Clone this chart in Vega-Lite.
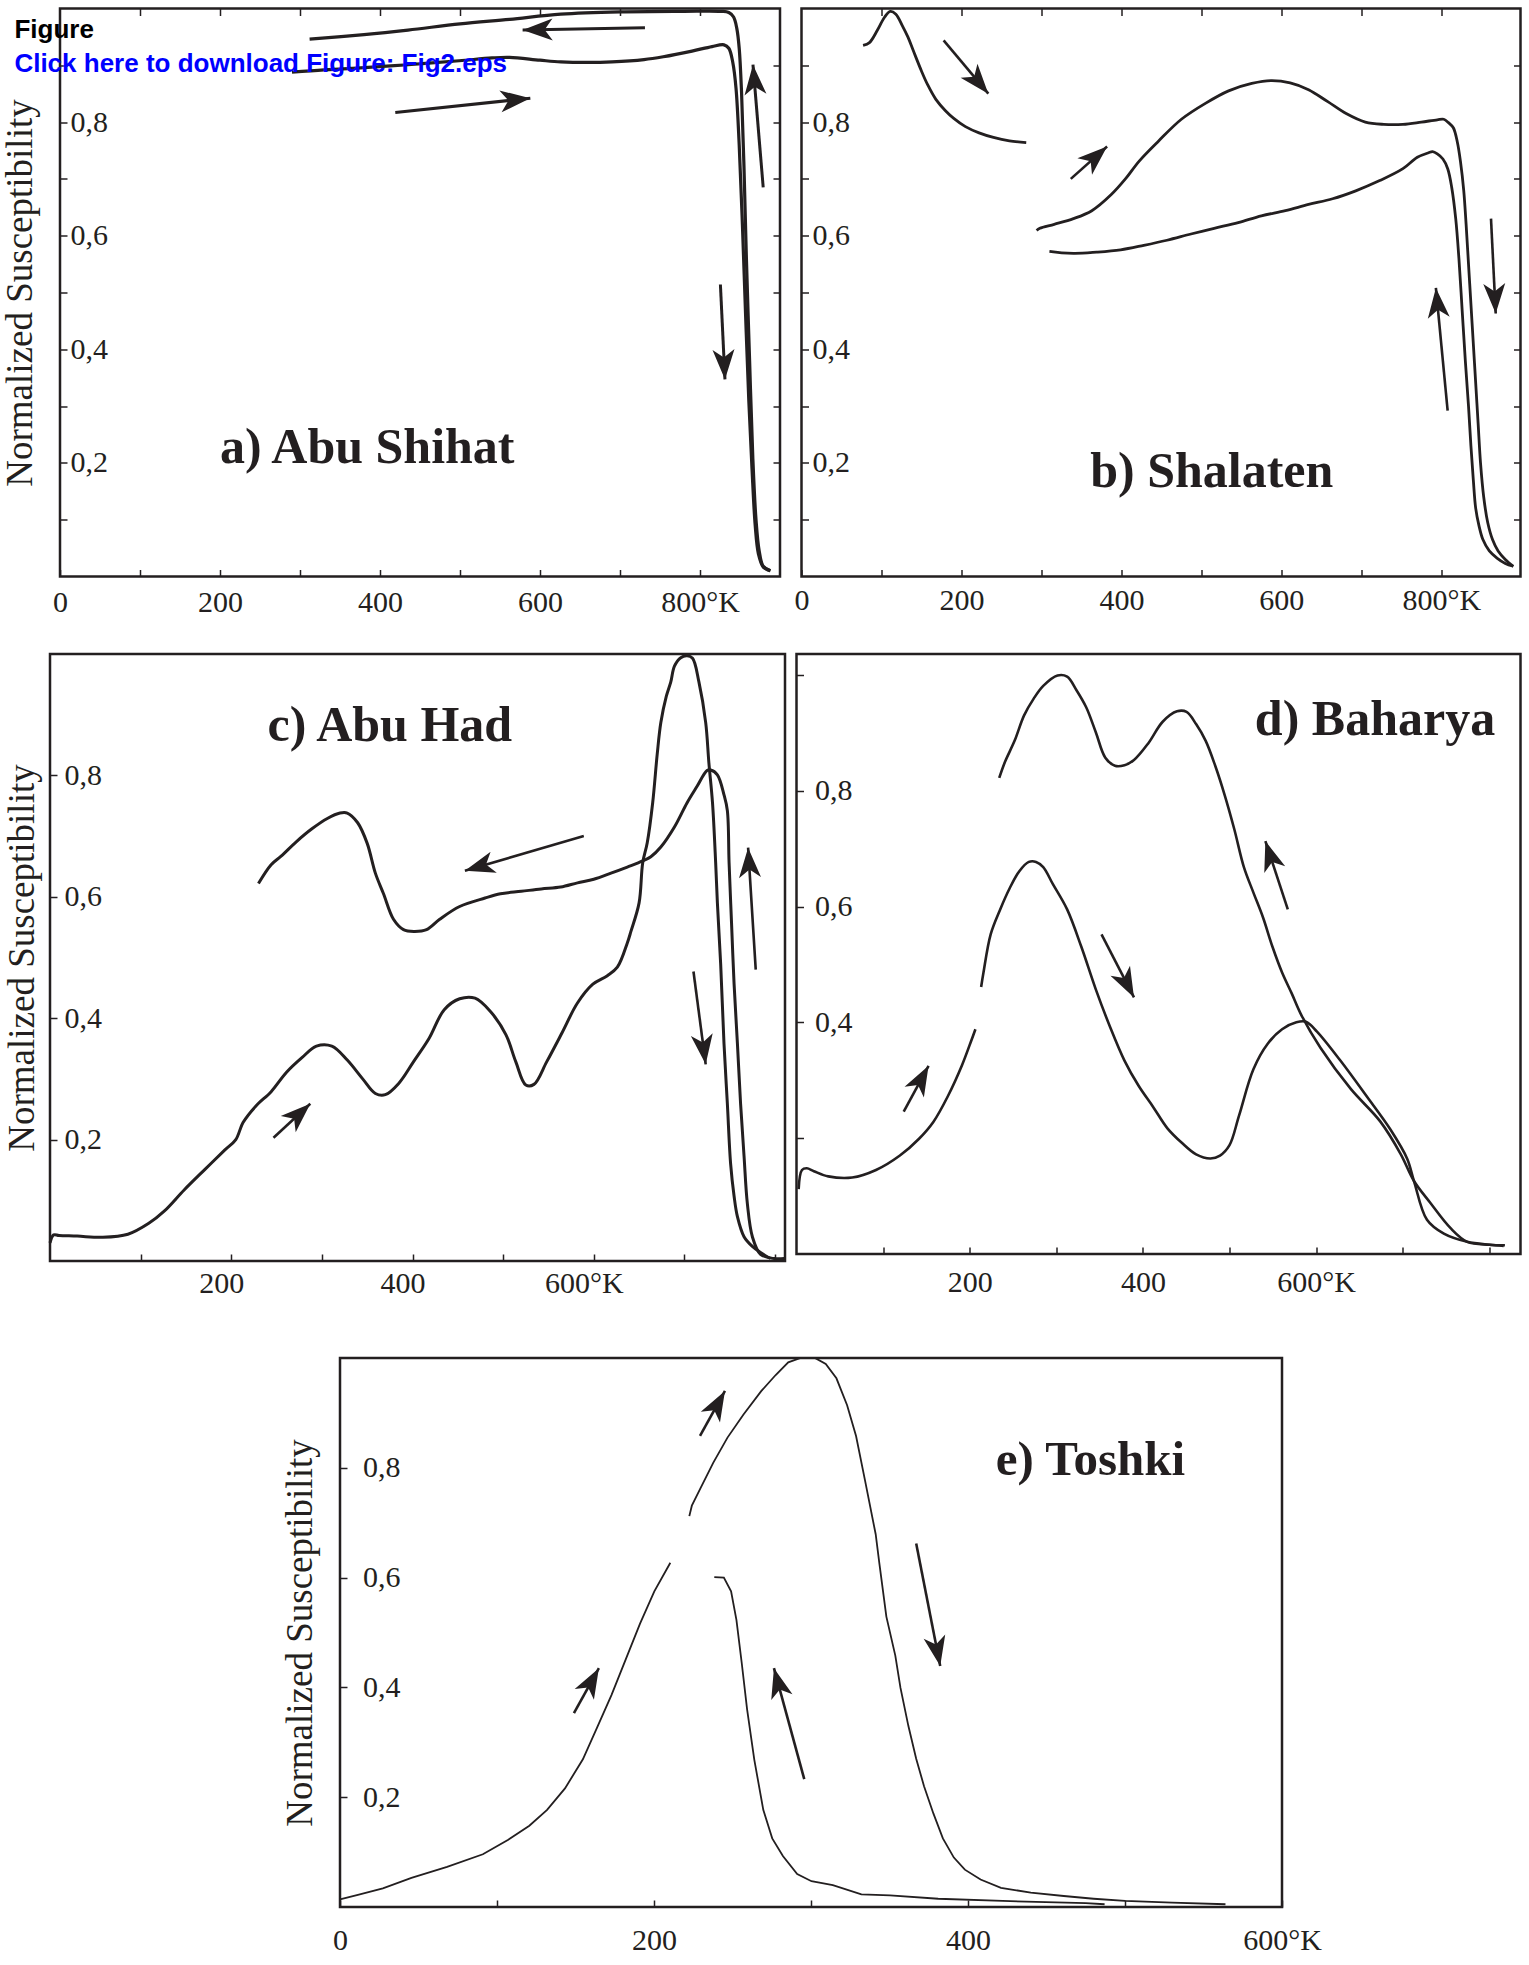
{
"$schema":"https://vega.github.io/schema/vega-lite/v6.json",
"background":"white",
"padding":{"left":0,"top":2.5,"right":0,"bottom":0},
"autosize":{"type":"pad"},
"config":{
 "view":{"stroke":"#231f20","strokeWidth":2.5},
 "axis":{"domain":false,"grid":false,"tickColor":"#231f20","tickWidth":1.5,"tickSize":-7,"labelFont":"Liberation Serif","labelFontSize":30,"labelColor":"#231f20","labelFlush":false,"labelOverlap":false,"labelBound":false,"titleFont":"Liberation Serif","titleFontSize":37,"titleFontWeight":"normal","titleColor":"#231f20"}
},
"datasets":{
 "aL":[
  {"s":"h","i":0,"x":290,"y":0.888},{"s":"h","i":1,"x":330,"y":0.892},{"s":"h","i":2,"x":371,"y":0.895},{"s":"h","i":3,"x":435,"y":0.901},{"s":"h","i":4,"x":499,"y":0.908},{"s":"h","i":5,"x":540,"y":0.913},{"s":"h","i":6,"x":562,"y":0.914},{"s":"h","i":7,"x":600,"y":0.909},{"s":"h","i":8,"x":626,"y":0.906},{"s":"h","i":9,"x":660,"y":0.905},{"s":"h","i":10,"x":690,"y":0.906},{"s":"h","i":11,"x":730,"y":0.91},{"s":"h","i":12,"x":754,"y":0.915},{"s":"h","i":13,"x":790,"y":0.925},{"s":"h","i":14,"x":815,"y":0.933},{"s":"h","i":15,"x":830,"y":0.936},{"s":"h","i":16,"x":836,"y":0.93},{"s":"h","i":17,"x":841,"y":0.905},{"s":"h","i":18,"x":845,"y":0.86},{"s":"h","i":19,"x":849,"y":0.76},{"s":"h","i":20,"x":853,"y":0.62},{"s":"h","i":21,"x":857,"y":0.46},{"s":"h","i":22,"x":861,"y":0.31},{"s":"h","i":23,"x":865,"y":0.19},{"s":"h","i":24,"x":869,"y":0.09},{"s":"h","i":25,"x":873,"y":0.04},{"s":"h","i":26,"x":879,"y":0.017},{"s":"h","i":27,"x":888,"y":0.01},
  {"s":"c","i":0,"x":888,"y":0.01},{"s":"c","i":1,"x":879,"y":0.018},{"s":"c","i":2,"x":874,"y":0.045},{"s":"c","i":3,"x":870,"y":0.1},{"s":"c","i":4,"x":866,"y":0.21},{"s":"c","i":5,"x":862,"y":0.38},{"s":"c","i":6,"x":858,"y":0.56},{"s":"c","i":7,"x":855,"y":0.72},{"s":"c","i":8,"x":852,"y":0.85},{"s":"c","i":9,"x":849,"y":0.93},{"s":"c","i":10,"x":846,"y":0.965},{"s":"c","i":11,"x":842,"y":0.985},{"s":"c","i":12,"x":836,"y":0.993},{"s":"c","i":13,"x":826,"y":0.995},{"s":"c","i":14,"x":780,"y":0.995},{"s":"c","i":15,"x":700,"y":0.994},{"s":"c","i":16,"x":626,"y":0.99},{"s":"c","i":17,"x":562,"y":0.981},{"s":"c","i":18,"x":500,"y":0.973},{"s":"c","i":19,"x":435,"y":0.962},{"s":"c","i":20,"x":380,"y":0.954},{"s":"c","i":21,"x":312,"y":0.946}
 ],
 "aA":[
  {"x":731.2,"y":0.966,"x2":578.3,"y2":0.962,"ang":-91},
  {"x":419.1,"y":0.817,"x2":587.9,"y2":0.842,"ang":84},
  {"x":879,"y":0.685,"x2":866.2,"y2":0.901,"ang":-4.8},
  {"x":825.5,"y":0.514,"x2":831.2,"y2":0.347,"ang":177.2}
 ],
 "bL":[
  {"s":"t","i":0,"x":77,"y":0.935},{"s":"t","i":1,"x":85,"y":0.94},{"s":"t","i":2,"x":95,"y":0.962},{"s":"t","i":3,"x":104,"y":0.985},{"s":"t","i":4,"x":111,"y":0.995},{"s":"t","i":5,"x":118,"y":0.99},{"s":"t","i":6,"x":126,"y":0.97},{"s":"t","i":7,"x":133,"y":0.95},{"s":"t","i":8,"x":140,"y":0.925},{"s":"t","i":9,"x":150,"y":0.89},{"s":"t","i":10,"x":158,"y":0.865},{"s":"t","i":11,"x":168,"y":0.84},{"s":"t","i":12,"x":180,"y":0.82},{"s":"t","i":13,"x":190,"y":0.807},{"s":"t","i":14,"x":205,"y":0.792},{"s":"t","i":15,"x":222,"y":0.781},{"s":"t","i":16,"x":240,"y":0.773},{"s":"t","i":17,"x":260,"y":0.767},{"s":"t","i":18,"x":281,"y":0.764},
  {"s":"h","i":0,"x":294,"y":0.609},{"s":"h","i":1,"x":298,"y":0.613},{"s":"h","i":2,"x":316,"y":0.62},{"s":"h","i":3,"x":340,"y":0.63},{"s":"h","i":4,"x":363,"y":0.644},{"s":"h","i":5,"x":387,"y":0.672},{"s":"h","i":6,"x":405,"y":0.7},{"s":"h","i":7,"x":422,"y":0.731},{"s":"h","i":8,"x":446,"y":0.766},{"s":"h","i":9,"x":475,"y":0.805},{"s":"h","i":10,"x":505,"y":0.833},{"s":"h","i":11,"x":534,"y":0.855},{"s":"h","i":12,"x":563,"y":0.868},{"s":"h","i":13,"x":587,"y":0.873},{"s":"h","i":14,"x":611,"y":0.869},{"s":"h","i":15,"x":634,"y":0.857},{"s":"h","i":16,"x":658,"y":0.836},{"s":"h","i":17,"x":681,"y":0.815},{"s":"h","i":18,"x":705,"y":0.8},{"s":"h","i":19,"x":728,"y":0.796},{"s":"h","i":20,"x":752,"y":0.796},{"s":"h","i":21,"x":775,"y":0.8},{"s":"h","i":22,"x":795,"y":0.804},{"s":"h","i":23,"x":803,"y":0.805},{"s":"h","i":24,"x":809,"y":0.799},{"s":"h","i":25,"x":815,"y":0.79},{"s":"h","i":26,"x":820,"y":0.765},{"s":"h","i":27,"x":824,"y":0.73},{"s":"h","i":28,"x":828,"y":0.68},{"s":"h","i":29,"x":831,"y":0.62},{"s":"h","i":30,"x":834,"y":0.55},{"s":"h","i":31,"x":837,"y":0.48},{"s":"h","i":32,"x":840,"y":0.41},{"s":"h","i":33,"x":843,"y":0.34},{"s":"h","i":34,"x":846,"y":0.27},{"s":"h","i":35,"x":849,"y":0.2},{"s":"h","i":36,"x":853,"y":0.14},{"s":"h","i":37,"x":858,"y":0.095},{"s":"h","i":38,"x":864,"y":0.065},{"s":"h","i":39,"x":871,"y":0.045},{"s":"h","i":40,"x":880,"y":0.03},{"s":"h","i":41,"x":890,"y":0.018},
  {"s":"c","i":0,"x":890,"y":0.018},{"s":"c","i":1,"x":880,"y":0.023},{"s":"c","i":2,"x":870,"y":0.032},{"s":"c","i":3,"x":860,"y":0.045},{"s":"c","i":4,"x":852,"y":0.065},{"s":"c","i":5,"x":847,"y":0.09},{"s":"c","i":6,"x":843,"y":0.12},{"s":"c","i":7,"x":840,"y":0.17},{"s":"c","i":8,"x":837,"y":0.23},{"s":"c","i":9,"x":834,"y":0.3},{"s":"c","i":10,"x":830,"y":0.38},{"s":"c","i":11,"x":826,"y":0.47},{"s":"c","i":12,"x":822,"y":0.56},{"s":"c","i":13,"x":818,"y":0.63},{"s":"c","i":14,"x":813,"y":0.685},{"s":"c","i":15,"x":808,"y":0.718},{"s":"c","i":16,"x":802,"y":0.735},{"s":"c","i":17,"x":795,"y":0.744},{"s":"c","i":18,"x":789,"y":0.748},{"s":"c","i":19,"x":784,"y":0.746},{"s":"c","i":20,"x":770,"y":0.738},{"s":"c","i":21,"x":752,"y":0.718},{"s":"c","i":22,"x":723,"y":0.697},{"s":"c","i":23,"x":693,"y":0.679},{"s":"c","i":24,"x":664,"y":0.665},{"s":"c","i":25,"x":634,"y":0.655},{"s":"c","i":26,"x":605,"y":0.644},{"s":"c","i":27,"x":575,"y":0.635},{"s":"c","i":28,"x":546,"y":0.623},{"s":"c","i":29,"x":516,"y":0.613},{"s":"c","i":30,"x":487,"y":0.603},{"s":"c","i":31,"x":457,"y":0.592},{"s":"c","i":32,"x":428,"y":0.583},{"s":"c","i":33,"x":399,"y":0.575},{"s":"c","i":34,"x":369,"y":0.571},{"s":"c","i":35,"x":340,"y":0.569},{"s":"c","i":36,"x":310,"y":0.5725}
 ],
 "bA":[
  {"x":177.7,"y":0.944,"x2":233.6,"y2":0.85,"ang":140},
  {"x":336.7,"y":0.7,"x2":382.1,"y2":0.757,"ang":48.3},
  {"x":807.9,"y":0.292,"x2":793.2,"y2":0.508,"ang":-5.5},
  {"x":862.1,"y":0.63,"x2":868,"y2":0.463,"ang":177.2}
 ],
 "cL":[
  {"s":"h","i":0,"x":0,"y":0.03},{"s":"h","i":1,"x":4,"y":0.043},{"s":"h","i":2,"x":10,"y":0.042},{"s":"h","i":3,"x":30,"y":0.041},{"s":"h","i":4,"x":58,"y":0.039},{"s":"h","i":5,"x":86,"y":0.044},{"s":"h","i":6,"x":109,"y":0.062},{"s":"h","i":7,"x":126,"y":0.082},{"s":"h","i":8,"x":148,"y":0.117},{"s":"h","i":9,"x":171,"y":0.151},{"s":"h","i":10,"x":193,"y":0.183},{"s":"h","i":11,"x":205,"y":0.2},{"s":"h","i":12,"x":213,"y":0.228},{"s":"h","i":13,"x":227,"y":0.255},{"s":"h","i":14,"x":244,"y":0.279},{"s":"h","i":15,"x":261,"y":0.311},{"s":"h","i":16,"x":278,"y":0.335},{"s":"h","i":17,"x":294,"y":0.354},{"s":"h","i":18,"x":311,"y":0.354},{"s":"h","i":19,"x":328,"y":0.331},{"s":"h","i":20,"x":345,"y":0.3},{"s":"h","i":21,"x":359,"y":0.276},{"s":"h","i":22,"x":370,"y":0.274},{"s":"h","i":23,"x":385,"y":0.293},{"s":"h","i":24,"x":401,"y":0.328},{"s":"h","i":25,"x":418,"y":0.366},{"s":"h","i":26,"x":435,"y":0.414},{"s":"h","i":27,"x":452,"y":0.432},{"s":"h","i":28,"x":469,"y":0.433},{"s":"h","i":29,"x":486,"y":0.411},{"s":"h","i":30,"x":503,"y":0.373},{"s":"h","i":31,"x":514,"y":0.328},{"s":"h","i":32,"x":525,"y":0.29},{"s":"h","i":33,"x":534,"y":0.291},{"s":"h","i":34,"x":548,"y":0.328},{"s":"h","i":35,"x":565,"y":0.376},{"s":"h","i":36,"x":582,"y":0.425},{"s":"h","i":37,"x":599,"y":0.456},{"s":"h","i":38,"x":615,"y":0.47},{"s":"h","i":39,"x":626,"y":0.484},{"s":"h","i":40,"x":637,"y":0.524},{"s":"h","i":41,"x":641,"y":0.543},{"s":"h","i":42,"x":650,"y":0.59},{"s":"h","i":43,"x":654,"y":0.656},{"s":"h","i":44,"x":659,"y":0.689},{"s":"h","i":45,"x":665,"y":0.755},{"s":"h","i":46,"x":670,"y":0.835},{"s":"h","i":47,"x":674,"y":0.887},{"s":"h","i":48,"x":680,"y":0.93},{"s":"h","i":49,"x":685,"y":0.954},{"s":"h","i":50,"x":689,"y":0.98},{"s":"h","i":51,"x":696,"y":0.994},{"s":"h","i":52,"x":703,"y":0.997},{"s":"h","i":53,"x":709,"y":0.993},{"s":"h","i":54,"x":716,"y":0.954},{"s":"h","i":55,"x":723.5,"y":0.887},{"s":"h","i":56,"x":727,"y":0.821},{"s":"h","i":57,"x":731,"y":0.755},{"s":"h","i":58,"x":734.5,"y":0.656},{"s":"h","i":59,"x":736.4,"y":0.59},{"s":"h","i":60,"x":740,"y":0.49},{"s":"h","i":61,"x":743.7,"y":0.358},{"s":"h","i":62,"x":747.4,"y":0.259},{"s":"h","i":63,"x":751,"y":0.16},{"s":"h","i":64,"x":754.8,"y":0.107},{"s":"h","i":65,"x":758.5,"y":0.073},{"s":"h","i":66,"x":765.8,"y":0.04},{"s":"h","i":67,"x":775,"y":0.024},{"s":"h","i":68,"x":784,"y":0.014},{"s":"h","i":69,"x":795,"y":0.004},
  {"s":"c","i":0,"x":810,"y":0.004},{"s":"c","i":1,"x":799,"y":0.004},{"s":"c","i":2,"x":784,"y":0.011},{"s":"c","i":3,"x":775,"y":0.04},{"s":"c","i":4,"x":769.5,"y":0.094},{"s":"c","i":5,"x":765.8,"y":0.173},{"s":"c","i":6,"x":762,"y":0.259},{"s":"c","i":7,"x":758.5,"y":0.358},{"s":"c","i":8,"x":754.8,"y":0.457},{"s":"c","i":9,"x":752,"y":0.557},{"s":"c","i":10,"x":749.3,"y":0.656},{"s":"c","i":11,"x":747.4,"y":0.742},{"s":"c","i":12,"x":743.7,"y":0.768},{"s":"c","i":13,"x":736.4,"y":0.801},{"s":"c","i":14,"x":729,"y":0.809},{"s":"c","i":15,"x":725,"y":0.808},{"s":"c","i":16,"x":714,"y":0.782},{"s":"c","i":17,"x":703,"y":0.755},{"s":"c","i":18,"x":689,"y":0.715},{"s":"c","i":19,"x":674,"y":0.682},{"s":"c","i":20,"x":663,"y":0.666},{"s":"c","i":21,"x":654,"y":0.659},{"s":"c","i":22,"x":637,"y":0.649},{"s":"c","i":23,"x":619,"y":0.639},{"s":"c","i":24,"x":600,"y":0.629},{"s":"c","i":25,"x":582,"y":0.623},{"s":"c","i":26,"x":563.5,"y":0.616},{"s":"c","i":27,"x":542,"y":0.613},{"s":"c","i":28,"x":520,"y":0.609},{"s":"c","i":29,"x":497,"y":0.605},{"s":"c","i":30,"x":480,"y":0.598},{"s":"c","i":31,"x":452,"y":0.584},{"s":"c","i":32,"x":430,"y":0.563},{"s":"c","i":33,"x":415.5,"y":0.546},{"s":"c","i":34,"x":401.5,"y":0.543},{"s":"c","i":35,"x":390,"y":0.546},{"s":"c","i":36,"x":379,"y":0.563},{"s":"c","i":37,"x":368,"y":0.605},{"s":"c","i":38,"x":359,"y":0.639},{"s":"c","i":39,"x":350,"y":0.688},{"s":"c","i":40,"x":339.5,"y":0.722},{"s":"c","i":41,"x":328,"y":0.738},{"s":"c","i":42,"x":320,"y":0.738},{"s":"c","i":43,"x":306,"y":0.729},{"s":"c","i":44,"x":289,"y":0.712},{"s":"c","i":45,"x":272,"y":0.691},{"s":"c","i":46,"x":255,"y":0.667},{"s":"c","i":47,"x":244,"y":0.653},{"s":"c","i":48,"x":230,"y":0.622}
 ],
 "cA":[
  {"x":589,"y":0.7,"x2":457.8,"y2":0.643,"ang":-106.3},
  {"x":246.6,"y":0.203,"x2":287.2,"y2":0.259,"ang":47.3},
  {"x":710,"y":0.477,"x2":723.5,"y2":0.324,"ang":172.5},
  {"x":778.7,"y":0.48,"x2":770.3,"y2":0.681,"ang":-3.6}
 ],
 "dL":[
  {"s":"h1","i":0,"x":2.5,"y":0.112},{"s":"h1","i":1,"x":6.3,"y":0.145},{"s":"h1","i":2,"x":11.9,"y":0.148},{"s":"h1","i":3,"x":20.1,"y":0.143},{"s":"h1","i":4,"x":36.7,"y":0.134},{"s":"h1","i":5,"x":64.3,"y":0.132},{"s":"h1","i":6,"x":91.8,"y":0.145},{"s":"h1","i":7,"x":119.4,"y":0.17},{"s":"h1","i":8,"x":141.5,"y":0.199},{"s":"h1","i":9,"x":158,"y":0.228},{"s":"h1","i":10,"x":174.6,"y":0.272},{"s":"h1","i":11,"x":191.1,"y":0.326},{"s":"h1","i":12,"x":202.2,"y":0.37},{"s":"h1","i":13,"x":206.6,"y":0.388},
  {"s":"h2","i":0,"x":213.2,"y":0.461},{"s":"h2","i":1,"x":215.9,"y":0.486},{"s":"h2","i":2,"x":224.2,"y":0.552},{"s":"h2","i":3,"x":235.2,"y":0.595},{"s":"h2","i":4,"x":246.3,"y":0.632},{"s":"h2","i":5,"x":257.3,"y":0.661},{"s":"h2","i":6,"x":268.3,"y":0.677},{"s":"h2","i":7,"x":276.6,"y":0.677},{"s":"h2","i":8,"x":284.9,"y":0.668},{"s":"h2","i":9,"x":295.9,"y":0.639},{"s":"h2","i":10,"x":312.5,"y":0.595},{"s":"h2","i":11,"x":329,"y":0.53},{"s":"h2","i":12,"x":345.6,"y":0.457},{"s":"h2","i":13,"x":362.1,"y":0.392},{"s":"h2","i":14,"x":378.7,"y":0.334},{"s":"h2","i":15,"x":395.2,"y":0.29},{"s":"h2","i":16,"x":411.8,"y":0.254},{"s":"h2","i":17,"x":428.3,"y":0.217},{"s":"h2","i":18,"x":444.9,"y":0.192},{"s":"h2","i":19,"x":461.4,"y":0.172},{"s":"h2","i":20,"x":478,"y":0.165},{"s":"h2","i":21,"x":489,"y":0.17},{"s":"h2","i":22,"x":500,"y":0.188},{"s":"h2","i":23,"x":511,"y":0.239},{"s":"h2","i":24,"x":527.6,"y":0.319},{"s":"h2","i":25,"x":544.1,"y":0.363},{"s":"h2","i":26,"x":560.7,"y":0.388},{"s":"h2","i":27,"x":577.2,"y":0.4},{"s":"h2","i":28,"x":588.3,"y":0.401},{"s":"h2","i":29,"x":601,"y":0.384},{"s":"h2","i":30,"x":628,"y":0.334},{"s":"h2","i":31,"x":659,"y":0.271},{"s":"h2","i":32,"x":686,"y":0.2145},{"s":"h2","i":33,"x":705,"y":0.165},{"s":"h2","i":34,"x":713,"y":0.126},{"s":"h2","i":35,"x":728,"y":0.059},{"s":"h2","i":36,"x":747.5,"y":0.035},{"s":"h2","i":37,"x":774.5,"y":0.021},{"s":"h2","i":38,"x":800,"y":0.016},{"s":"h2","i":39,"x":816.5,"y":0.014},
  {"s":"c","i":0,"x":818,"y":0.015},{"s":"c","i":1,"x":800,"y":0.016},{"s":"c","i":2,"x":774.5,"y":0.021},{"s":"c","i":3,"x":755,"y":0.045},{"s":"c","i":4,"x":732,"y":0.088},{"s":"c","i":5,"x":713,"y":0.126},{"s":"c","i":6,"x":697.5,"y":0.173},{"s":"c","i":7,"x":674,"y":0.229},{"s":"c","i":8,"x":640,"y":0.285},{"s":"c","i":9,"x":605,"y":0.356},{"s":"c","i":10,"x":582.8,"y":0.413},{"s":"c","i":11,"x":571.8,"y":0.45},{"s":"c","i":12,"x":560.7,"y":0.486},{"s":"c","i":13,"x":549.7,"y":0.53},{"s":"c","i":14,"x":538.7,"y":0.581},{"s":"c","i":15,"x":527.6,"y":0.624},{"s":"c","i":16,"x":516.6,"y":0.668},{"s":"c","i":17,"x":505.6,"y":0.733},{"s":"c","i":18,"x":494.5,"y":0.792},{"s":"c","i":19,"x":483.5,"y":0.843},{"s":"c","i":20,"x":472.5,"y":0.886},{"s":"c","i":21,"x":461.4,"y":0.915},{"s":"c","i":22,"x":450.4,"y":0.936},{"s":"c","i":23,"x":439.4,"y":0.937},{"s":"c","i":24,"x":422.8,"y":0.919},{"s":"c","i":25,"x":406.3,"y":0.882},{"s":"c","i":26,"x":389.7,"y":0.853},{"s":"c","i":27,"x":378.7,"y":0.844},{"s":"c","i":28,"x":367.7,"y":0.843},{"s":"c","i":29,"x":356.6,"y":0.857},{"s":"c","i":30,"x":345.6,"y":0.901},{"s":"c","i":31,"x":334.5,"y":0.944},{"s":"c","i":32,"x":323.5,"y":0.973},{"s":"c","i":33,"x":312.5,"y":0.997},{"s":"c","i":34,"x":301.4,"y":0.999},{"s":"c","i":35,"x":284.9,"y":0.981},{"s":"c","i":36,"x":273.9,"y":0.959},{"s":"c","i":37,"x":262.8,"y":0.93},{"s":"c","i":38,"x":251.8,"y":0.886},{"s":"c","i":39,"x":240.8,"y":0.85},{"s":"c","i":40,"x":234.1,"y":0.822}
 ],
 "dA":[
  {"x":123.8,"y":0.246,"x2":152.5,"y2":0.325,"ang":28.6},
  {"x":352.2,"y":0.552,"x2":389.7,"y2":0.443,"ang":152.7},
  {"x":567.3,"y":0.595,"x2":541.4,"y2":0.713,"ang":-18.2}
 ],
 "eL":[
  {"s":"h1","i":0,"x":0,"y":0.014},{"s":"h1","i":1,"x":11.4,"y":0.022},{"s":"h1","i":2,"x":27.3,"y":0.034},{"s":"h1","i":3,"x":45.5,"y":0.053},{"s":"h1","i":4,"x":68.2,"y":0.073},{"s":"h1","i":5,"x":91,"y":0.096},{"s":"h1","i":6,"x":106.9,"y":0.122},{"s":"h1","i":7,"x":120.6,"y":0.148},{"s":"h1","i":8,"x":131.9,"y":0.177},{"s":"h1","i":9,"x":143.3,"y":0.216},{"s":"h1","i":10,"x":154.7,"y":0.269},{"s":"h1","i":11,"x":163.8,"y":0.327},{"s":"h1","i":12,"x":172.9,"y":0.386},{"s":"h1","i":13,"x":182,"y":0.451},{"s":"h1","i":14,"x":191.1,"y":0.516},{"s":"h1","i":15,"x":200.2,"y":0.575},{"s":"h1","i":16,"x":210.4,"y":0.627},
  {"s":"h2","i":0,"x":222.5,"y":0.712},{"s":"h2","i":1,"x":224.1,"y":0.731},{"s":"h2","i":2,"x":229.8,"y":0.764},{"s":"h2","i":3,"x":237.7,"y":0.809},{"s":"h2","i":4,"x":246.8,"y":0.855},{"s":"h2","i":5,"x":257,"y":0.897},{"s":"h2","i":6,"x":268.4,"y":0.94},{"s":"h2","i":7,"x":277.5,"y":0.969},{"s":"h2","i":8,"x":285.5,"y":0.992},{"s":"h2","i":9,"x":293.4,"y":1.0},{"s":"h2","i":10,"x":302.5,"y":1.0},{"s":"h2","i":11,"x":309.4,"y":0.989},{"s":"h2","i":12,"x":316.2,"y":0.963},{"s":"h2","i":13,"x":323,"y":0.914},{"s":"h2","i":14,"x":328.7,"y":0.858},{"s":"h2","i":15,"x":334.4,"y":0.777},{"s":"h2","i":16,"x":341.2,"y":0.679},{"s":"h2","i":17,"x":343.5,"y":0.627},{"s":"h2","i":18,"x":348,"y":0.529},{"s":"h2","i":19,"x":353.7,"y":0.458},{"s":"h2","i":20,"x":357,"y":0.399},{"s":"h2","i":21,"x":362,"y":0.33},{"s":"h2","i":22,"x":367,"y":0.27},{"s":"h2","i":23,"x":372,"y":0.22},{"s":"h2","i":24,"x":378,"y":0.17},{"s":"h2","i":25,"x":384,"y":0.125},{"s":"h2","i":26,"x":391,"y":0.09},{"s":"h2","i":27,"x":398,"y":0.068},{"s":"h2","i":28,"x":408,"y":0.05},{"s":"h2","i":29,"x":421,"y":0.035},{"s":"h2","i":30,"x":440,"y":0.026},{"s":"h2","i":31,"x":461,"y":0.02},{"s":"h2","i":32,"x":480,"y":0.015},{"s":"h2","i":33,"x":500,"y":0.011},{"s":"h2","i":34,"x":530,"y":0.008},{"s":"h2","i":35,"x":564,"y":0.005},
  {"s":"c","i":0,"x":238.4,"y":0.601},{"s":"c","i":1,"x":244.5,"y":0.6},{"s":"c","i":2,"x":249.1,"y":0.575},{"s":"c","i":3,"x":252.5,"y":0.523},{"s":"c","i":4,"x":255.9,"y":0.444},{"s":"c","i":5,"x":259.3,"y":0.36},{"s":"c","i":6,"x":263.9,"y":0.268},{"s":"c","i":7,"x":269.6,"y":0.177},{"s":"c","i":8,"x":275.3,"y":0.125},{"s":"c","i":9,"x":282.1,"y":0.093},{"s":"c","i":10,"x":291.2,"y":0.06},{"s":"c","i":11,"x":300.3,"y":0.047},{"s":"c","i":12,"x":313.9,"y":0.04},{"s":"c","i":13,"x":332.1,"y":0.023},{"s":"c","i":14,"x":350.3,"y":0.021},{"s":"c","i":15,"x":381,"y":0.015},{"s":"c","i":16,"x":422,"y":0.011},{"s":"c","i":17,"x":475,"y":0.007},{"s":"c","i":18,"x":487,"y":0.005}
 ],
 "eA":[
  {"x":149,"y":0.353,"x2":164.9,"y2":0.435,"ang":29.1},
  {"x":229.3,"y":0.858,"x2":245.2,"y2":0.94,"ang":29.1},
  {"x":367,"y":0.662,"x2":382.3,"y2":0.439,"ang":168.9},
  {"x":295.7,"y":0.233,"x2":276.4,"y2":0.435,"ang":-15.3}
 ]
},
"vconcat":[
 {"vconcat":[
  {"hconcat":[
   {"width":1,"height":1,"view":{"stroke":null},"data":{"values":[]},"mark":"point"},
   {"hconcat":[
    {"width":720,"height":568,
     "resolve":{"axis":{"x":"independent","y":"independent"}},
     "layer":[
      {"data":{"name":"aL"},"mark":{"type":"line","color":"#231f20","strokeWidth":3.2,"interpolate":"catmull-rom"},
       "encoding":{
        "x":{"field":"x","type":"quantitative","scale":{"domain":[0,900],"nice":false,"zero":false},"axis":{"orient":"bottom","values":[0,100,200,300,400,500,600,700,800],"labelExpr":"datum.value == 800 ? '800°K' : (datum.value % 200 == 0 ? datum.label : '')","labelPadding":18,"title":null}},
        "y":{"field":"y","type":"quantitative","scale":{"domain":[0,1],"nice":false,"zero":false},"axis":{"orient":"left","values":[0.1,0.2,0.3,0.4,0.5,0.6,0.7,0.8,0.9],"labelExpr":"(round(datum.value*10) % 2 == 0) ? replace(format(datum.value, '.1f'), '.', ',') : ''","labelAlign":"left","labelPadding":-3,"title":"Normalized Susceptibility","titlePadding":20}},
        "detail":{"field":"s"},
        "order":{"field":"i","type":"quantitative"}}},
      {"data":{"name":"aA"},"mark":{"type":"rule","color":"#231f20","strokeWidth":3},
       "encoding":{
        "x":{"field":"x","type":"quantitative","scale":{"domain":[0,900],"nice":false,"zero":false},"axis":{"orient":"top","values":[100,200,300,400,500,600,700,800],"labels":false,"title":null}},
        "y":{"field":"y","type":"quantitative","scale":{"domain":[0,1],"nice":false,"zero":false},"axis":{"orient":"right","values":[0.1,0.2,0.3,0.4,0.5,0.6,0.7,0.8,0.9],"labels":false,"title":null}},
        "x2":{"field":"x2"},"y2":{"field":"y2"}}},
      {"data":{"name":"aA"},"mark":{"type":"point","shape":"M0,0L0.55,1.5L0,1.1L-0.55,1.5Z","filled":true,"size":1600,"color":"#231f20","opacity":1},
       "encoding":{
        "x":{"field":"x2","type":"quantitative","axis":null},
        "y":{"field":"y2","type":"quantitative","axis":null},
        "angle":{"field":"ang","type":"quantitative","scale":null}}},
      {"data":{"values":[{"t":"a) Abu Shihat","x":384,"y":0.2}]},"mark":{"type":"text","font":"Liberation Serif","fontWeight":"bold","fontSize":50,"color":"#231f20","align":"center","baseline":"alphabetic"},
       "encoding":{"x":{"field":"x","type":"quantitative","axis":null},"y":{"field":"y","type":"quantitative","axis":null},"text":{"field":"t"}}},
      {"data":{"values":[{"t":"Figure","x":-57,"y":0.948}]},"mark":{"type":"text","font":"Liberation Sans","fontWeight":"bold","fontSize":26,"color":"#000000","align":"left","baseline":"alphabetic"},
       "encoding":{"x":{"field":"x","type":"quantitative","axis":null},"y":{"field":"y","type":"quantitative","axis":null},"text":{"field":"t"}}},
      {"data":{"values":[{"t":"Click here to download Figure: Fig2.eps","x":-57,"y":0.889}]},"mark":{"type":"text","font":"Liberation Sans","fontWeight":"bold","fontSize":26,"color":"#0000ff","align":"left","baseline":"alphabetic"},
       "encoding":{"x":{"field":"x","type":"quantitative","axis":null},"y":{"field":"y","type":"quantitative","axis":null},"text":{"field":"t"}}}
     ]},
    {"width":719,"height":568,
     "resolve":{"axis":{"x":"independent","y":"independent"}},
     "layer":[
      {"data":{"name":"bL"},"mark":{"type":"line","color":"#231f20","strokeWidth":2.8,"interpolate":"catmull-rom"},
       "encoding":{
        "x":{"field":"x","type":"quantitative","scale":{"domain":[0,899],"nice":false,"zero":false},"axis":{"orient":"bottom","values":[0,100,200,300,400,500,600,700,800],"labelExpr":"datum.value == 800 ? '800°K' : (datum.value % 200 == 0 ? datum.label : '')","labelPadding":16,"title":null}},
        "y":{"field":"y","type":"quantitative","scale":{"domain":[0,1],"nice":false,"zero":false},"axis":{"orient":"left","values":[0.1,0.2,0.3,0.4,0.5,0.6,0.7,0.8,0.9],"labelExpr":"(round(datum.value*10) % 2 == 0) ? replace(format(datum.value, '.1f'), '.', ',') : ''","labelAlign":"left","labelPadding":-3.6,"title":null}},
        "detail":{"field":"s"},
        "order":{"field":"i","type":"quantitative"}}},
      {"data":{"name":"bA"},"mark":{"type":"rule","color":"#231f20","strokeWidth":2.6},
       "encoding":{
        "x":{"field":"x","type":"quantitative","scale":{"domain":[0,899],"nice":false,"zero":false},"axis":{"orient":"top","values":[100,200,300,400,500,600,700,800],"labels":false,"title":null}},
        "y":{"field":"y","type":"quantitative","scale":{"domain":[0,1],"nice":false,"zero":false},"axis":{"orient":"right","values":[0.1,0.2,0.3,0.4,0.5,0.6,0.7,0.8,0.9],"labels":false,"title":null}},
        "x2":{"field":"x2"},"y2":{"field":"y2"}}},
      {"data":{"name":"bA"},"mark":{"type":"point","shape":"M0,0L0.55,1.5L0,1.1L-0.55,1.5Z","filled":true,"size":1600,"color":"#231f20","opacity":1},
       "encoding":{
        "x":{"field":"x2","type":"quantitative","axis":null},
        "y":{"field":"y2","type":"quantitative","axis":null},
        "angle":{"field":"ang","type":"quantitative","scale":null}}},
      {"data":{"values":[{"t":"b) Shalaten","x":513,"y":0.157}]},"mark":{"type":"text","font":"Liberation Serif","fontWeight":"bold","fontSize":50,"color":"#231f20","align":"center","baseline":"alphabetic"},
       "encoding":{"x":{"field":"x","type":"quantitative","axis":null},"y":{"field":"y","type":"quantitative","axis":null},"text":{"field":"t"}}}
     ]}
   ],"spacing":21.5,"bounds":"flush"}
  ],"spacing":9,"bounds":"flush"},
  {"hconcat":[
   {"width":735,"height":607,
    "resolve":{"axis":{"x":"independent","y":"independent"}},
    "layer":[
     {"data":{"name":"cL"},"mark":{"type":"line","color":"#231f20","strokeWidth":3,"interpolate":"catmull-rom"},
      "encoding":{
       "x":{"field":"x","type":"quantitative","scale":{"domain":[0,811],"nice":false,"zero":false},"axis":{"orient":"bottom","values":[100,200,300,400,500,600,700,800],"labelExpr":"datum.value == 600 ? '600°K' : ((datum.value == 200 || datum.value == 400) ? datum.label : '')","labelPadding":14,"labelOffset":-10,"title":null}},
       "y":{"field":"y","type":"quantitative","scale":{"domain":[0,1],"nice":false,"zero":false},"axis":{"orient":"left","values":[0.2,0.4,0.6,0.8],"labelExpr":"replace(format(datum.value, '.1f'), '.', ',')","labelAlign":"left","labelPadding":-7,"title":"Normalized Susceptibility","titlePadding":8}},
       "detail":{"field":"s"},
       "order":{"field":"i","type":"quantitative"}}},
     {"data":{"name":"cA"},"mark":{"type":"rule","color":"#231f20","strokeWidth":2.6},
      "encoding":{
       "x":{"field":"x","type":"quantitative","axis":null},
       "y":{"field":"y","type":"quantitative","axis":null},
       "x2":{"field":"x2"},"y2":{"field":"y2"}}},
     {"data":{"name":"cA"},"mark":{"type":"point","shape":"M0,0L0.55,1.5L0,1.1L-0.55,1.5Z","filled":true,"size":1600,"color":"#231f20","opacity":1},
      "encoding":{
       "x":{"field":"x2","type":"quantitative","axis":null},
       "y":{"field":"y2","type":"quantitative","axis":null},
       "angle":{"field":"ang","type":"quantitative","scale":null}}},
     {"data":{"values":[{"t":"c) Abu Had","x":375,"y":0.856}]},"mark":{"type":"text","font":"Liberation Serif","fontWeight":"bold","fontSize":50,"color":"#231f20","align":"center","baseline":"alphabetic"},
      "encoding":{"x":{"field":"x","type":"quantitative","axis":null},"y":{"field":"y","type":"quantitative","axis":null},"text":{"field":"t"}}}
    ]},
   {"width":724,"height":600,
    "resolve":{"axis":{"x":"independent","y":"independent"}},
    "layer":[
     {"data":{"name":"dL"},"mark":{"type":"line","color":"#231f20","strokeWidth":2.6,"interpolate":"catmull-rom"},
      "encoding":{
       "x":{"field":"x","type":"quantitative","scale":{"domain":[0,836],"nice":false,"zero":false},"axis":{"orient":"bottom","values":[100,200,300,400,500,600,700,800],"labelExpr":"datum.value == 600 ? '600°K' : ((datum.value == 200 || datum.value == 400) ? datum.label : '')","labelPadding":20,"title":null}},
       "y":{"field":"y","type":"quantitative","scale":{"domain":[0,1.036],"nice":false,"zero":false},"axis":{"orient":"left","values":[0.2,0.4,0.6,0.8,1.0],"labelExpr":"(datum.value > 0.3 && datum.value < 0.9) ? replace(format(datum.value, '.1f'), '.', ',') : ''","labelAlign":"left","labelPadding":-11,"title":null}},
       "detail":{"field":"s"},
       "order":{"field":"i","type":"quantitative"}}},
     {"data":{"name":"dA"},"mark":{"type":"rule","color":"#231f20","strokeWidth":2.6},
      "encoding":{
       "x":{"field":"x","type":"quantitative","axis":null},
       "y":{"field":"y","type":"quantitative","axis":null},
       "x2":{"field":"x2"},"y2":{"field":"y2"}}},
     {"data":{"name":"dA"},"mark":{"type":"point","shape":"M0,0L0.55,1.5L0,1.1L-0.55,1.5Z","filled":true,"size":1600,"color":"#231f20","opacity":1},
      "encoding":{
       "x":{"field":"x2","type":"quantitative","axis":null},
       "y":{"field":"y2","type":"quantitative","axis":null},
       "angle":{"field":"ang","type":"quantitative","scale":null}}},
     {"data":{"values":[{"t":"d) Baharya","x":668,"y":0.897}]},"mark":{"type":"text","font":"Liberation Serif","fontWeight":"bold","fontSize":50,"color":"#231f20","align":"center","baseline":"alphabetic"},
      "encoding":{"x":{"field":"x","type":"quantitative","axis":null},"y":{"field":"y","type":"quantitative","axis":null},"text":{"field":"t"}}}
    ]}
  ],"spacing":11.5,"bounds":"flush"}
 ],"spacing":28.5},
 {"hconcat":[
  {"width":280,"height":1,"view":{"stroke":null},"data":{"values":[]},"mark":"point"},
  {"width":942,"height":549,
   "resolve":{"axis":{"x":"independent","y":"independent"}},
   "layer":[
    {"data":{"name":"eL"},"mark":{"type":"line","color":"#231f20","strokeWidth":1.8,"interpolate":"linear"},
     "encoding":{
      "x":{"field":"x","type":"quantitative","scale":{"domain":[0,600],"nice":false,"zero":false},"axis":{"orient":"bottom","values":[0,100,200,300,400,500,600],"labelExpr":"datum.value == 600 ? '600°K' : (datum.value % 200 == 0 ? datum.label : '')","labelPadding":25,"title":null}},
      "y":{"field":"y","type":"quantitative","scale":{"domain":[0,1],"nice":false,"zero":false},"axis":{"orient":"left","values":[0.2,0.4,0.6,0.8],"labelExpr":"replace(format(datum.value, '.1f'), '.', ',')","labelAlign":"left","labelPadding":-15.5,"title":"Normalized Susceptibility","titlePadding":20}},
      "detail":{"field":"s"},
      "order":{"field":"i","type":"quantitative"}}},
    {"data":{"name":"eA"},"mark":{"type":"rule","color":"#231f20","strokeWidth":2.6},
     "encoding":{
      "x":{"field":"x","type":"quantitative","axis":null},
      "y":{"field":"y","type":"quantitative","axis":null},
      "x2":{"field":"x2"},"y2":{"field":"y2"}}},
    {"data":{"name":"eA"},"mark":{"type":"point","shape":"M0,0L0.55,1.5L0,1.1L-0.55,1.5Z","filled":true,"size":1600,"color":"#231f20","opacity":1},
     "encoding":{
      "x":{"field":"x2","type":"quantitative","axis":null},
      "y":{"field":"y2","type":"quantitative","axis":null},
      "angle":{"field":"ang","type":"quantitative","scale":null}}},
    {"data":{"values":[{"t":"e) Toshki","x":478,"y":0.787}]},"mark":{"type":"text","font":"Liberation Serif","fontWeight":"bold","fontSize":49,"color":"#231f20","align":"center","baseline":"alphabetic"},
     "encoding":{"x":{"field":"x","type":"quantitative","axis":null},"y":{"field":"y","type":"quantitative","axis":null},"text":{"field":"t"}}}
   ]}
 ],"spacing":10,"bounds":"flush"}
],"spacing":53.5
}
